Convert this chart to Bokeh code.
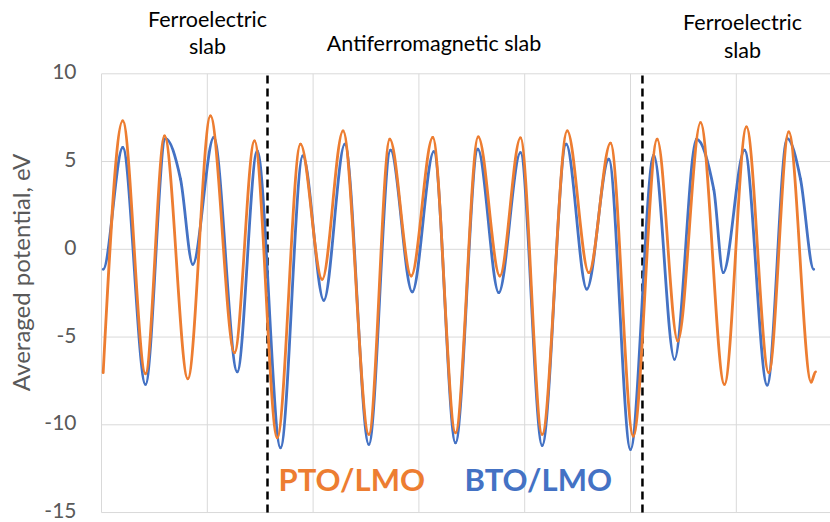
from bokeh.plotting import figure
from bokeh.models import Label
from bokeh.embed import file_html
from bokeh.resources import INLINE

# ---- data (x in grid units, y in eV) ----
pto_x = [0.016, 0.201, 0.416, 0.596, 0.816, 1.030, 1.257, 1.446, 1.661, 1.881,
         2.086, 2.283, 2.527, 2.725, 2.927, 3.131, 3.346, 3.561, 3.765, 3.960,
         4.165, 4.402, 4.606, 4.811, 5.026, 5.252, 5.447, 5.662, 5.888, 6.096,
         6.307, 6.496, 6.708, 6.749]
pto_y = [-7.03, 7.32, -7.09, 6.46, -7.38, 7.60, -5.89, 6.18, -10.74, 5.99,
         -1.71, 6.75, -10.55, 6.27, -1.52, 6.37, -10.46, 6.41, -1.52, 6.35,
         -10.55, 6.75, -1.33, 6.05, -10.65, 6.27, -5.23, 7.22, -7.70, 6.98,
         -7.03, 6.69, -7.57, -6.98]

bto_x = [0.016, 0.201, 0.416, 0.605, 0.747, 0.863, 1.061, 1.283, 1.472, 1.692,
         1.903, 2.101, 2.300, 2.527, 2.732, 2.937, 3.141, 3.346, 3.557, 3.755,
         3.960, 4.165, 4.392, 4.587, 4.795, 5.000, 5.220, 5.416, 5.624, 5.787,
         5.876, 6.078, 6.292, 6.481, 6.607, 6.732]
bto_y = [-1.14, 5.80, -7.70, 6.31, 4.00, -0.86, 6.37, -6.98, 5.61, -11.31,
         5.32, -2.91, 5.99, -11.12, 5.65, -2.43, 5.57, -11.03, 5.70, -2.47,
         5.51, -11.18, 5.99, -2.27, 5.13, -11.41, 5.36, -6.27, 6.27, 3.42,
         -1.33, 5.65, -7.74, 6.31, 4.00, -1.14]

slab_bounds = [1.569, 5.113]
y_ticks = [-15, -10, -5, 0, 5, 10]
y_tick_labels = ["-15", "-10", "-5", "0", "5", "10"]
x_grid = [0, 1, 2, 3, 4, 5, 6]
y_min, y_max = -15, 10

section_text = ["Ferroelectric", "slab", "Antiferromagnetic slab", "Ferroelectric", "slab"]
section_x = [1.002, 1.002, 3.143, 6.059, 6.059]
section_y = [13.10, 11.60, 11.77, 12.95, 11.37]

series_names = ["PTO/LMO", "BTO/LMO"]
series_label_x = [1.673, 3.431]
series_label_y = [-13.06, -13.06]

y_title = "Averaged potential, eV"

ORANGE = "#ED7D31"
BLUE = "#4472C4"
GRID = "#D9D9D9"
GREY_TXT = "#595959"
FONT = "Lato"


def smooth_segments(xs, ys, start_factor=0.0):
    """Cubic (Bezier) rendering through the read points, flat at turning points."""
    n = len(xs)
    m = []
    for i in range(n):
        if i == 0:
            m.append(start_factor * (ys[1] - ys[0]) / (xs[1] - xs[0]))
        elif i == n - 1:
            m.append(0.0)
        else:
            d0 = ys[i] - ys[i - 1]
            d1 = ys[i + 1] - ys[i]
            if d0 * d1 <= 0:
                m.append(0.0)
            else:
                m.append((ys[i + 1] - ys[i - 1]) / (xs[i + 1] - xs[i - 1]))
    seg = dict(x0=[], y0=[], x1=[], y1=[], cx0=[], cy0=[], cx1=[], cy1=[])
    for i in range(n - 1):
        dx = xs[i + 1] - xs[i]
        seg["x0"].append(xs[i]); seg["y0"].append(ys[i])
        seg["x1"].append(xs[i + 1]); seg["y1"].append(ys[i + 1])
        seg["cx0"].append(xs[i] + dx / 3); seg["cy0"].append(ys[i] + m[i] * dx / 3)
        seg["cx1"].append(xs[i + 1] - dx / 3); seg["cy1"].append(ys[i + 1] - m[i + 1] * dx / 3)
    return seg


# The frame covers the whole canvas so that the surrounding texts are not clipped.
W, H = 830, 522
px_per_x = 105.8
px_per_y = 17.55
left_px, top_px = 101.0, 73.3
x_lo = -left_px / px_per_x
x_hi = x_lo + W / px_per_x
y_hi = y_max + top_px / px_per_y
y_lo = y_hi - H / px_per_y

p = figure(width=W, height=H, x_range=(x_lo, x_hi), y_range=(y_lo, y_hi),
           output_backend="svg", toolbar_location=None,
           x_axis_location=None, y_axis_location=None,
           min_border=0)
p.outline_line_color = None
p.background_fill_color = "white"
p.border_fill_color = "white"
p.xgrid.visible = False
p.ygrid.visible = False

# gridlines
p.segment(x0=x_grid, y0=[y_min] * len(x_grid), x1=x_grid, y1=[y_max] * len(x_grid),
          line_color=GRID, line_width=1)
p.segment(x0=[0] * len(y_ticks), y0=y_ticks, x1=[x_hi] * len(y_ticks), y1=y_ticks,
          line_color=GRID, line_width=1)

# tick labels
for t, s in zip(y_ticks, y_tick_labels):
    p.add_layout(Label(x=-0.236, y=t, text=s, text_align="right", text_baseline="middle",
                       y_offset=2, text_font=FONT, text_font_size="21px", text_color=GREY_TXT))

# slab boundaries
p.segment(x0=slab_bounds, y0=[y_min] * len(slab_bounds), x1=slab_bounds, y1=[y_max] * len(slab_bounds),
          line_color="black", line_width=2.5, line_dash="8 5")

# curves
b = smooth_segments(bto_x, bto_y, 0.0)
p.bezier(line_color=BLUE, line_width=2.8, line_cap="round", **b)
o = smooth_segments(pto_x, pto_y, 1.5)
p.bezier(line_color=ORANGE, line_width=2.8, line_cap="round", **o)

for t, x, y in zip(section_text, section_x, section_y):
    p.add_layout(Label(x=x, y=y, text=t, text_align="center", text_baseline="alphabetic",
                       text_font=FONT, text_font_size="21.5px", text_color="black"))

for t, x, y, c in zip(series_names, series_label_x, series_label_y, [ORANGE, BLUE]):
    p.add_layout(Label(x=x, y=y, text=t, text_align="left", text_baseline="alphabetic",
                       text_font=FONT, text_font_style="bold", text_font_size="31px", text_color=c))

p.add_layout(Label(x=-0.766, y=-1.32, text=y_title, angle=1.5707963,
                   text_align="center", text_baseline="middle",
                   text_font=FONT, text_font_size="24px", text_color=GREY_TXT))

open("out.html", "w").write(file_html(p, INLINE))
